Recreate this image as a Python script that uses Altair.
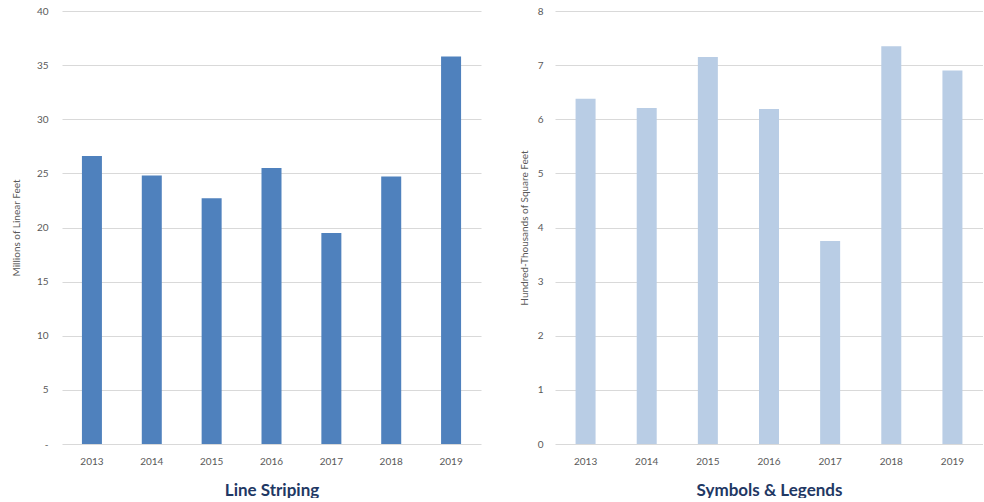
import altair as alt
import pandas as pd

years = ["2013", "2014", "2015", "2016", "2017", "2018", "2019"]
striping = [26.6, 24.8, 22.7, 25.5, 19.5, 24.7, 35.8]
symbols = [6.38, 6.21, 7.15, 6.19, 3.75, 7.35, 6.9]

df1 = pd.DataFrame({"year": years, "value": striping})
df2 = pd.DataFrame({"year": years, "value": symbols})

FONT = "Lato"

def panel(df, color, ytitle, xtitle, dmax, step, zero_dash, width, lpad, tpad):
    label_expr = "datum.value == 0 ? '-' : datum.label" if zero_dash else "datum.label"
    return alt.Chart(df).mark_bar(color=color, size=20).encode(
        x=alt.X("year:N", sort=years, title=xtitle,
                axis=alt.Axis(labelAngle=0, domain=False, ticks=False, grid=False,
                              labelFont=FONT, labelFontSize=10, labelColor="#595959",
                              labelPadding=12, titleFont=FONT, titleFontSize=17,
                              titleFontWeight="bold", titleColor="#1F3864",
                              titlePadding=16)),
        y=alt.Y("value:Q", title=ytitle,
                scale=alt.Scale(domain=[0, dmax], nice=False),
                axis=alt.Axis(values=list(range(0, dmax + 1, step)),
                              labelExpr=label_expr, domain=False, ticks=False,
                              gridColor="#D9D9D9", gridWidth=1,
                              labelFont=FONT, labelFontSize=10, labelColor="#595959",
                              labelPadding=lpad, titleFont=FONT, titleFontSize=10,
                              titleFontWeight="normal", titleColor="#595959",
                              titlePadding=tpad)),
    ).properties(width=width, height=433)

left = panel(df1, "#4F81BD", "Millions of Linear Feet", "Line Striping", 40, 5, True, 419, 14, 15)
right = panel(df2, "#B9CDE5", "Hundred-Thousands of Square Feet", "Symbols & Legends", 8, 1, False, 428, 12, 8)

chart = alt.hconcat(left, right, spacing=38).properties(
    padding={"left": 11, "top": 6, "right": 0, "bottom": 0},
    background="white",
).configure_view(strokeWidth=0, stroke="transparent")

chart.save("out.html", embed_options={"renderer": "svg", "actions": False})
